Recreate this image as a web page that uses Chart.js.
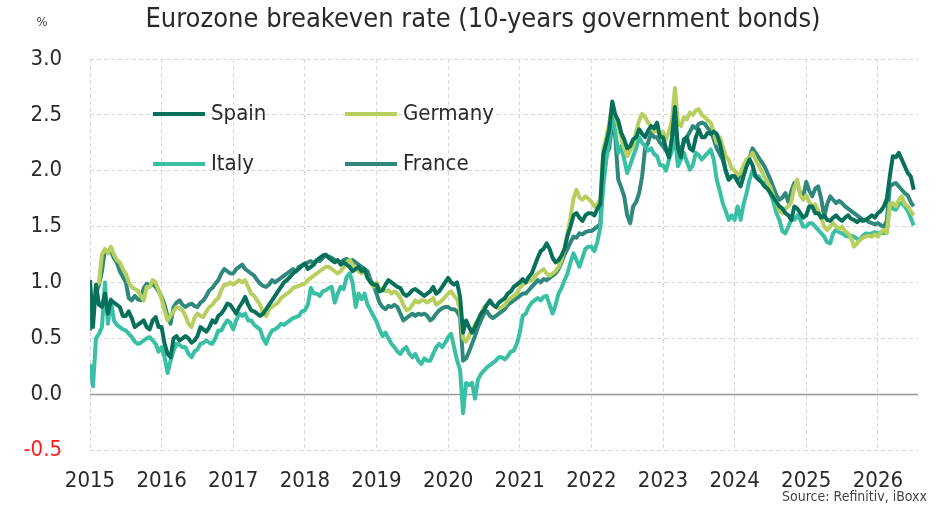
<!DOCTYPE html>
<html>
<head>
<meta charset="utf-8">
<script src="https://cdn.jsdelivr.net/npm/chart.js@4.4.1/dist/chart.umd.min.js"></script>
<style>
  html, body { margin: 0; padding: 0; background: #fff; }
  canvas { display: block; }
</style>
</head>
<body>
<canvas id="breakevenChart" width="944" height="512"></canvas>
<script>
const FONT = "'DejaVu Sans Condensed', 'Liberation Sans Narrow', sans-serif";

// twice-monthly observations (1st and 15th), first point = 1 Jan 2015
const startYear = 2015;
const stepsPerYear = 24;

const spain = [
  1.02, 0.60, 0.98, 0.80, 0.78, 0.90, 0.72, 0.84, 0.82, 0.80, 0.78, 0.70, 0.70, 0.74, 0.68, 0.60, 0.62, 0.64, 0.66, 0.60, 0.58, 0.66, 0.69, 0.60,
  0.60, 0.45, 0.36, 0.33, 0.50, 0.52, 0.48, 0.50, 0.52, 0.50, 0.46, 0.48, 0.52, 0.60, 0.58, 0.56, 0.60, 0.66, 0.64, 0.70, 0.72, 0.76, 0.81, 0.80,
  0.76, 0.72, 0.78, 0.82, 0.87, 0.80, 0.75, 0.74, 0.72, 0.70, 0.72, 0.76, 0.80, 0.84, 0.88, 0.92, 0.96, 1.00, 1.02, 1.05, 1.08, 1.10, 1.12, 1.15,
  1.17, 1.12, 1.14, 1.16, 1.20, 1.22, 1.24, 1.25, 1.22, 1.20, 1.18, 1.20, 1.16, 1.18, 1.16, 1.14, 1.10, 1.12, 1.14, 1.10, 1.12, 1.04, 1.00, 0.98,
  0.98, 0.92, 0.93, 0.98, 1.02, 1.00, 0.98, 0.96, 0.95, 0.90, 0.88, 0.90, 0.93, 0.94, 0.92, 0.90, 0.88, 0.90, 0.92, 0.96, 0.90, 0.92, 0.96, 1.00,
  1.04, 1.00, 0.98, 1.00, 0.87, 0.55, 0.66, 0.60, 0.55, 0.60, 0.66, 0.72, 0.75, 0.80, 0.84, 0.80, 0.78, 0.82, 0.84, 0.86, 0.90, 0.92, 0.96, 0.98,
  1.00, 1.03, 1.00, 1.05, 1.08, 1.15, 1.22, 1.28, 1.30, 1.35, 1.30, 1.22, 1.18, 1.20, 1.24, 1.30, 1.42, 1.50, 1.60, 1.62, 1.58, 1.55, 1.60, 1.62,
  1.62, 1.60, 1.66, 1.70, 2.15, 2.25, 2.37, 2.62, 2.50, 2.45, 2.34, 2.28, 2.20, 2.22, 2.28, 2.30, 2.37, 2.33, 2.30, 2.36, 2.40, 2.38, 2.43, 2.30,
  2.30, 2.20, 2.12, 2.30, 2.57, 2.20, 2.12, 2.28, 2.30, 2.20, 2.18, 2.30, 2.37, 2.30, 2.30, 2.34, 2.33, 2.35, 2.33, 2.25, 2.13, 2.00, 1.92, 1.95,
  1.95, 1.90, 1.86, 1.95, 2.04, 2.10, 2.05, 1.95, 1.92, 1.90, 1.86, 1.84, 1.80, 1.76, 1.72, 1.68, 1.66, 1.62, 1.60, 1.56, 1.68, 1.66, 1.62, 1.58,
  1.60, 1.68, 1.68, 1.62, 1.62, 1.58, 1.60, 1.56, 1.55, 1.58, 1.60, 1.57, 1.55, 1.58, 1.60, 1.57, 1.56, 1.54, 1.56, 1.55, 1.56, 1.58, 1.60, 1.58,
  1.62, 1.64, 1.68, 1.75, 1.95, 2.13, 2.12, 2.16, 2.10, 2.04, 1.98, 1.95, 1.83
];

const germany = [
  0.82, 0.70, 0.96, 1.00, 1.25, 1.30, 1.26, 1.32, 1.25, 1.20, 1.18, 1.12, 1.08, 1.00, 0.96, 0.94, 0.93, 0.88, 0.84, 0.96, 0.96, 1.02, 1.00, 0.93,
  0.85, 0.75, 0.66, 0.70, 0.74, 0.78, 0.77, 0.75, 0.70, 0.63, 0.60, 0.68, 0.72, 0.70, 0.69, 0.74, 0.78, 0.80, 0.84, 0.86, 0.93, 0.98, 0.98, 1.00,
  0.98, 1.00, 1.02, 1.00, 1.02, 0.96, 0.90, 0.88, 0.84, 0.80, 0.72, 0.70, 0.76, 0.78, 0.80, 0.82, 0.86, 0.88, 0.90, 0.92, 0.95, 0.96, 0.97, 0.98,
  0.99, 1.02, 1.04, 1.06, 1.08, 1.10, 1.12, 1.14, 1.14, 1.12, 1.10, 1.08, 1.10, 1.14, 1.18, 1.20, 1.16, 1.12, 1.10, 1.08, 1.10, 1.05, 1.00, 0.96,
  1.00, 0.95, 0.93, 0.92, 0.93, 0.90, 0.92, 0.90, 0.86, 0.80, 0.75, 0.76, 0.80, 0.84, 0.82, 0.84, 0.84, 0.82, 0.84, 0.86, 0.80, 0.82, 0.84, 0.87,
  0.90, 0.92, 0.88, 0.85, 0.75, 0.50, 0.47, 0.52, 0.58, 0.62, 0.66, 0.72, 0.78, 0.80, 0.82, 0.80, 0.78, 0.77, 0.78, 0.80, 0.84, 0.86, 0.88, 0.90,
  0.95, 0.98, 1.00, 1.01, 1.02, 1.05, 1.08, 1.10, 1.12, 1.08, 1.06, 1.08, 1.10, 1.14, 1.20, 1.30, 1.44, 1.58, 1.75, 1.83, 1.76, 1.74, 1.77, 1.75,
  1.72, 1.68, 1.70, 1.74, 2.20, 2.30, 2.43, 2.60, 2.50, 2.40, 2.30, 2.20, 2.13, 2.18, 2.22, 2.35, 2.45, 2.51, 2.48, 2.43, 2.40, 2.35, 2.37, 2.30,
  2.35, 2.28, 2.35, 2.45, 2.74, 2.43, 2.40, 2.48, 2.46, 2.52, 2.50, 2.54, 2.55, 2.50, 2.48, 2.45, 2.43, 2.35, 2.25, 2.30, 2.22, 2.13, 2.10, 2.02,
  2.00, 1.96, 1.98, 2.05, 2.10, 2.12, 2.16, 2.10, 2.05, 2.00, 1.94, 1.90, 1.85, 1.77, 1.72, 1.64, 1.62, 1.66, 1.68, 1.72, 1.85, 1.92, 1.78, 1.74,
  1.78, 1.72, 1.68, 1.70, 1.64, 1.58, 1.50, 1.47, 1.50, 1.53, 1.50, 1.48, 1.50, 1.46, 1.44, 1.40, 1.32, 1.35, 1.38, 1.40, 1.41, 1.42, 1.41, 1.43,
  1.41, 1.45, 1.47, 1.44, 1.70, 1.71, 1.68, 1.74, 1.77, 1.70, 1.68, 1.64, 1.60
];

const italy = [
  0.27, 0.07, 0.50, 0.54, 0.60, 1.00, 0.63, 0.85, 0.66, 0.62, 0.60, 0.58, 0.57, 0.54, 0.51, 0.47, 0.45, 0.46, 0.48, 0.50, 0.51, 0.48, 0.45, 0.38,
  0.42, 0.33, 0.19, 0.30, 0.39, 0.45, 0.44, 0.42, 0.42, 0.36, 0.33, 0.38, 0.40, 0.45, 0.46, 0.48, 0.46, 0.45, 0.50, 0.57, 0.57, 0.62, 0.66, 0.64,
  0.58, 0.66, 0.72, 0.70, 0.72, 0.66, 0.66, 0.62, 0.60, 0.58, 0.50, 0.45, 0.52, 0.57, 0.58, 0.60, 0.63, 0.62, 0.64, 0.66, 0.68, 0.69, 0.70, 0.74,
  0.75, 0.80, 0.95, 0.90, 0.90, 0.88, 0.92, 0.93, 0.95, 0.96, 0.82, 0.90, 0.96, 0.94, 1.05, 1.08, 1.00, 0.78, 0.90, 0.85, 0.90, 0.80, 0.75, 0.70,
  0.65, 0.58, 0.52, 0.55, 0.50, 0.45, 0.42, 0.38, 0.36, 0.40, 0.42, 0.36, 0.33, 0.36, 0.30, 0.27, 0.32, 0.30, 0.30, 0.36, 0.42, 0.45, 0.42, 0.46,
  0.51, 0.54, 0.42, 0.30, 0.22, -0.17, 0.10, 0.08, 0.10, -0.04, 0.13, 0.18, 0.21, 0.24, 0.26, 0.28, 0.30, 0.33, 0.33, 0.31, 0.34, 0.38, 0.39, 0.45,
  0.55, 0.70, 0.72, 0.78, 0.82, 0.84, 0.86, 0.84, 0.87, 0.88, 0.80, 0.72, 0.80, 0.90, 0.95, 1.02, 1.08, 1.18, 1.26, 1.20, 1.14, 1.22, 1.30, 1.32,
  1.32, 1.28, 1.36, 1.50, 1.86, 2.10, 2.28, 2.50, 2.35, 2.16, 2.22, 2.10, 1.98, 2.05, 2.13, 2.20, 2.30, 2.25, 2.22, 2.18, 2.20, 2.15, 2.13, 2.05,
  2.05, 2.00, 2.10, 2.18, 2.30, 2.04, 2.10, 2.16, 2.08, 2.01, 2.05, 2.16, 2.14, 2.10, 2.13, 2.16, 2.19, 2.10, 1.92, 1.82, 1.71, 1.64, 1.56, 1.60,
  1.56, 1.68, 1.56, 1.70, 1.80, 1.92, 2.00, 1.95, 1.95, 1.90, 1.89, 1.84, 1.80, 1.72, 1.62, 1.56, 1.46, 1.44, 1.50, 1.56, 1.56, 1.60, 1.56, 1.50,
  1.50, 1.53, 1.53, 1.50, 1.47, 1.44, 1.41, 1.36, 1.35, 1.44, 1.47, 1.45, 1.44, 1.42, 1.41, 1.42, 1.41, 1.39, 1.38, 1.42, 1.44, 1.43, 1.44, 1.45,
  1.44, 1.45, 1.44, 1.45, 1.71, 1.66, 1.65, 1.70, 1.71, 1.68, 1.64, 1.58, 1.51
];

const france = [
  0.57, 0.75, 0.90, 0.98, 1.10, 1.29, 1.27, 1.28, 1.22, 1.18, 1.10, 1.05, 1.00, 0.86, 0.84, 0.88, 0.85, 0.84, 0.95, 0.99, 0.97, 0.99, 0.96, 0.92,
  0.87, 0.80, 0.69, 0.63, 0.78, 0.82, 0.84, 0.80, 0.78, 0.80, 0.81, 0.79, 0.78, 0.82, 0.84, 0.88, 0.93, 0.95, 0.99, 1.02, 1.08, 1.12, 1.10, 1.08,
  1.08, 1.12, 1.14, 1.16, 1.12, 1.10, 1.08, 1.06, 1.02, 0.99, 0.97, 0.96, 0.98, 1.02, 1.00, 1.02, 1.04, 1.06, 1.08, 1.10, 1.12, 1.10, 1.14, 1.15,
  1.16, 1.18, 1.19, 1.17, 1.20, 1.19, 1.22, 1.24, 1.23, 1.22, 1.20, 1.19, 1.18, 1.20, 1.21, 1.19, 1.20, 1.18, 1.16, 1.14, 1.12, 1.10, 1.02, 0.98,
  0.90, 0.82, 0.78, 0.76, 0.79, 0.78, 0.80, 0.78, 0.72, 0.66, 0.68, 0.70, 0.72, 0.70, 0.72, 0.71, 0.72, 0.70, 0.66, 0.68, 0.72, 0.75, 0.77, 0.78,
  0.78, 0.76, 0.76, 0.74, 0.69, 0.30, 0.32, 0.38, 0.45, 0.52, 0.60, 0.66, 0.72, 0.74, 0.70, 0.68, 0.70, 0.72, 0.74, 0.76, 0.80, 0.82, 0.84, 0.86,
  0.88, 0.90, 0.90, 0.93, 0.96, 0.99, 1.02, 1.00, 1.03, 1.02, 1.04, 1.06, 1.08, 1.12, 1.18, 1.25, 1.30, 1.36, 1.41, 1.40, 1.44, 1.43, 1.45, 1.46,
  1.46, 1.48, 1.50, 1.52, 2.10, 2.15, 2.20, 2.45, 2.30, 1.92, 1.85, 1.77, 1.60, 1.53, 1.68, 1.72, 1.80, 1.95, 2.20, 2.25, 2.34, 2.30, 2.30, 2.25,
  2.22, 2.18, 2.13, 2.25, 2.45, 2.20, 2.20, 2.25, 2.30, 2.35, 2.40, 2.38, 2.42, 2.43, 2.42, 2.38, 2.36, 2.28, 2.20, 2.15, 2.10, 2.00, 1.92, 1.95,
  1.95, 1.92, 1.96, 2.00, 2.05, 2.12, 2.20, 2.16, 2.12, 2.08, 2.04, 1.98, 1.92, 1.85, 1.78, 1.74, 1.76, 1.80, 1.72, 1.82, 1.89, 1.88, 1.80, 1.77,
  1.90, 1.82, 1.77, 1.84, 1.86, 1.75, 1.59, 1.70, 1.77, 1.74, 1.71, 1.73, 1.71, 1.68, 1.66, 1.64, 1.62, 1.60, 1.58, 1.56, 1.56, 1.54, 1.53, 1.52,
  1.53, 1.51, 1.50, 1.55, 1.86, 1.88, 1.89, 1.86, 1.83, 1.80, 1.78, 1.72, 1.68
];

const countries = ['Spain', 'Germany', 'Italy', 'France'];
const seriesValues = [spain, germany, italy, france];
const colours = ['#07705b', '#b7cf5e', '#38bfa4', '#2f887b'];

const yTicks = [-0.5, 0, 0.5, 1, 1.5, 2, 2.5, 3];
const yearTicks = [2015, 2016, 2017, 2018, 2019, 2020, 2021, 2022, 2023, 2024, 2025, 2026];

const toPoints = values => values.map((v, i) => ({ x: startYear + i / stepsPerYear, y: v }));

// solid zero line, titles and legend drawn straight onto the canvas
const decorations = {
  id: 'decorations',
  beforeDatasetsDraw(chart) {
    const { ctx, chartArea, scales } = chart;
    const y0 = Math.round(scales.y.getPixelForValue(0)) + 0.5;
    ctx.save();
    ctx.strokeStyle = '#999999';
    ctx.lineWidth = 1.5;
    ctx.beginPath();
    ctx.moveTo(chartArea.left, y0);
    ctx.lineTo(chartArea.right, y0);
    ctx.stroke();
    ctx.restore();
  },
  afterDatasetsDraw(chart) {
    const { ctx, chartArea } = chart;
    const spots = [[63, 55], [255, 55], [63, 105], [255, 105]];
    ctx.save();
    ctx.font = '22px ' + FONT;
    ctx.textBaseline = 'middle';
    ctx.lineCap = 'butt';
    chart.data.datasets.forEach((ds, i) => {
      const x = chartArea.left + spots[i][0];
      const y = chartArea.top + spots[i][1];
      ctx.strokeStyle = ds.borderColor;
      ctx.lineWidth = 4;
      ctx.beginPath();
      ctx.moveTo(x, y);
      ctx.lineTo(x + 52, y);
      ctx.stroke();
      ctx.fillStyle = '#2a2a2a';
      ctx.fillText(ds.label, x + 58, y);
    });
    ctx.restore();
  },
  afterDraw(chart) {
    const { ctx } = chart;
    ctx.save();
    ctx.fillStyle = '#2a2a2a';
    ctx.textBaseline = 'middle';
    ctx.textAlign = 'center';
    ctx.font = '27px ' + FONT;
    ctx.fillText('Eurozone breakeven rate (10-years government bonds)', 483, 20);
    ctx.font = '13px ' + FONT;
    ctx.fillStyle = '#444444';
    ctx.fillText('%', 42, 23);
    ctx.textAlign = 'right';
    ctx.font = '14px ' + FONT;
    ctx.fillText('Source: Refinitiv, iBoxx', 927, 497);
    ctx.restore();
  }
};

new Chart(document.getElementById('breakevenChart'), {
  type: 'line',
  data: {
    datasets: countries.map((name, i) => ({
      label: name,
      data: toPoints(seriesValues[i]),
      borderColor: colours[i],
      backgroundColor: colours[i],
      borderWidth: 4,
      borderJoinStyle: 'round',
      pointRadius: 0,
      tension: 0
    }))
  },
  options: {
    responsive: false,
    devicePixelRatio: 1,
    animation: false,
    layout: { padding: { top: 59, right: 26, bottom: 0, left: 0 } },
    plugins: {
      legend: { display: false },
      tooltip: { enabled: false }
    },
    scales: {
      x: {
        type: 'linear',
        min: 2015,
        max: 2026.56,
        afterFit: s => { s.height = 62; },
        afterBuildTicks: s => { s.ticks = yearTicks.map(v => ({ value: v })); },
        border: { display: false, dash: [4, 3] },
        grid: { color: '#d6d6d6', lineWidth: 1, drawTicks: false },
        ticks: {
          autoSkip: false,
          maxRotation: 0,
          padding: 18,
          color: '#2a2a2a',
          font: { family: FONT, size: 22 },
          callback: v => String(v)
        }
      },
      y: {
        min: -0.5,
        max: 3,
        afterFit: s => { s.width = 90; },
        afterBuildTicks: s => { s.ticks = yTicks.map(v => ({ value: v })); },
        border: { display: false, dash: [4, 3] },
        grid: { color: '#d6d6d6', lineWidth: 1, drawTicks: false },
        ticks: {
          padding: 28,
          color: c => (c.tick.value < 0 ? '#ff1a1a' : '#2a2a2a'),
          font: { family: FONT, size: 22 },
          callback: v => v.toFixed(1)
        }
      }
    }
  },
  plugins: [decorations]
});
</script>
</body>
</html>
